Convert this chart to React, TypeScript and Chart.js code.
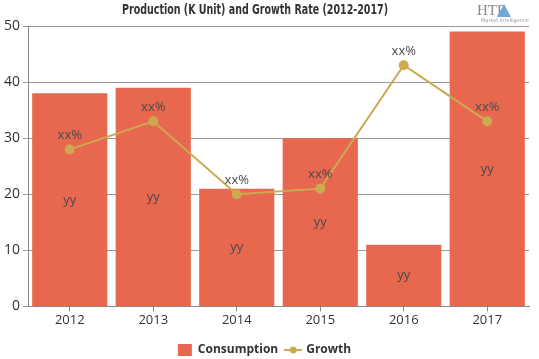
import React, { useEffect, useRef } from "react";
import { Chart, registerables } from "chart.js";

Chart.register(...registerables);

const categories = ["2012", "2013", "2014", "2015", "2016", "2017"];
const consumption = [38, 39, 21, 30, 11, 49];
const growth = [28, 33, 20, 21, 43, 33];
const barLabels = ["yy", "yy", "yy", "yy", "yy", "yy"];
const pointLabels = ["xx%", "xx%", "xx%", "xx%", "xx%", "xx%"];
const yTicks = [0, 10, 20, 30, 40, 50];
const titleText = "Production (K Unit) and Growth Rate (2012-2017)";

const BAR_COLOR = "#E8674F";
const LINE_COLOR = "#CDAA52";
const FONT = "'Open Sans', 'Noto Sans', sans-serif";

function makeLineIcon(): HTMLCanvasElement {
  const c = document.createElement("canvas");
  c.width = 18;
  c.height = 8;
  const ctx = c.getContext("2d")!;
  ctx.strokeStyle = LINE_COLOR;
  ctx.lineWidth = 2;
  ctx.beginPath();
  ctx.moveTo(0, 4);
  ctx.lineTo(18, 4);
  ctx.stroke();
  ctx.fillStyle = LINE_COLOR;
  ctx.beginPath();
  ctx.arc(9, 4, 3.5, 0, Math.PI * 2);
  ctx.fill();
  return c;
}

const labelPlugin = {
  id: "valueLabels",
  afterLayout(chart: any) {
    if (chart.legend) {
      chart.legend.top += 7;
      chart.legend.bottom += 7;
    }
  },
  afterDatasetsDraw(chart: any) {
    const ctx = chart.ctx;
    ctx.save();
    ctx.font = `13px ${FONT}`;
    ctx.fillStyle = "#4a4a4a";
    ctx.textAlign = "center";
    ctx.textBaseline = "middle";
    const barMeta = chart.getDatasetMeta(0);
    const yScale = chart.scales.y;
    barMeta.data.forEach((el: any, i: number) => {
      const yMid = yScale.getPixelForValue(consumption[i] / 2);
      ctx.fillText(barLabels[i], el.x, yMid);
    });
    const lineMeta = chart.getDatasetMeta(1);
    lineMeta.data.forEach((el: any, i: number) => {
      ctx.fillText(pointLabels[i], el.x, el.y - 14);
    });
    ctx.restore();
  },
  afterDraw(chart: any) {
    const ctx = chart.ctx;
    ctx.save();
    ctx.fillStyle = "#333";
    ctx.textAlign = "center";
    ctx.textBaseline = "middle";
    ctx.font = "bold 14px 'DejaVu Sans Condensed', 'DejaVu Sans', sans-serif";
    const w = ctx.measureText(titleText).width;
    const targetW = 266;
    ctx.translate(255, 10);
    ctx.scale(targetW / w, 1);
    ctx.fillText(titleText, 0, 0);
    ctx.restore();
    // logo
    ctx.save();
    ctx.textBaseline = "middle";
    ctx.fillStyle = "#8a8a8a";
    ctx.font = "15px 'Liberation Serif', serif";
    ctx.textAlign = "left";
    ctx.fillText("HTF", 477, 11);
    ctx.fillStyle = "#6fa8d8";
    ctx.beginPath();
    ctx.moveTo(504, 4);
    ctx.lineTo(511, 17);
    ctx.lineTo(497, 17);
    ctx.closePath();
    ctx.fill();
    ctx.fillStyle = "#999";
    ctx.font = "5px 'DejaVu Sans', sans-serif";
    ctx.fillText("Market Intelligence", 481, 21);
    ctx.restore();
  },
};

export default function App() {
  const ref = useRef<HTMLCanvasElement | null>(null);
  useEffect(() => {
    document.body.style.margin = "0";
    const icon = makeLineIcon();
    const chart = new Chart(ref.current!, {
      type: "bar",
      data: {
        labels: categories,
        datasets: [
          {
            type: "bar",
            label: "Consumption",
            data: consumption,
            backgroundColor: BAR_COLOR,
            categoryPercentage: 0.9,
            barPercentage: 1.0,
            order: 2,
          },
          {
            type: "line",
            label: "Growth",
            data: growth,
            borderColor: LINE_COLOR,
            backgroundColor: LINE_COLOR,
            borderWidth: 2,
            pointRadius: 4,
            pointHoverRadius: 4,
            tension: 0,
            order: 1,
          },
        ] as any,
      },
      options: {
        responsive: false,
        animation: false,
        layout: { padding: { top: 26, right: 10, left: 0, bottom: 0 } },
        plugins: {
          title: { display: false },
          tooltip: { enabled: false },
          legend: {
            position: "bottom",
            labels: {
              usePointStyle: true,
              pointStyleWidth: 14,
              boxHeight: 12,
              padding: 8,
              color: "#333",
              font: { family: FONT, size: 12, weight: "bold" },
              generateLabels: () => [
                {
                  text: "Consumption",
                  fillStyle: BAR_COLOR,
                  strokeStyle: BAR_COLOR,
                  lineWidth: 0,
                  pointStyle: "rect",
                  datasetIndex: 0,
                  hidden: false,
                  fontColor: "#333",
                } as any,
                {
                  text: "Growth",
                  fillStyle: LINE_COLOR,
                  strokeStyle: LINE_COLOR,
                  lineWidth: 0,
                  pointStyle: icon,
                  datasetIndex: 1,
                  hidden: false,
                  fontColor: "#333",
                } as any,
              ],
            },
          },
        },
        scales: {
          x: {
            grid: {
              display: true,
              drawOnChartArea: false,
              offset: false,
              tickLength: 5,
              color: "#888",
            },
            border: { color: "#888" },
            ticks: { color: "#333", font: { family: FONT, size: 13 }, padding: 1 },
          },
          y: {
            min: 0,
            max: 50,
            afterBuildTicks: (axis: any) => {
              axis.ticks = yTicks.map((v) => ({ value: v }));
            },
            afterFit: (axis: any) => {
              axis.width = 28;
            },
            grid: { color: "#999", tickLength: 5 },
            border: { color: "#888" },
            ticks: { color: "#333", font: { family: FONT, size: 14 }, padding: 3 },
          },
        },
      },
      plugins: [labelPlugin],
    });
    return () => chart.destroy();
  }, []);
  return <canvas ref={ref} width={539} height={359} style={{ display: "block" }} />;
}
